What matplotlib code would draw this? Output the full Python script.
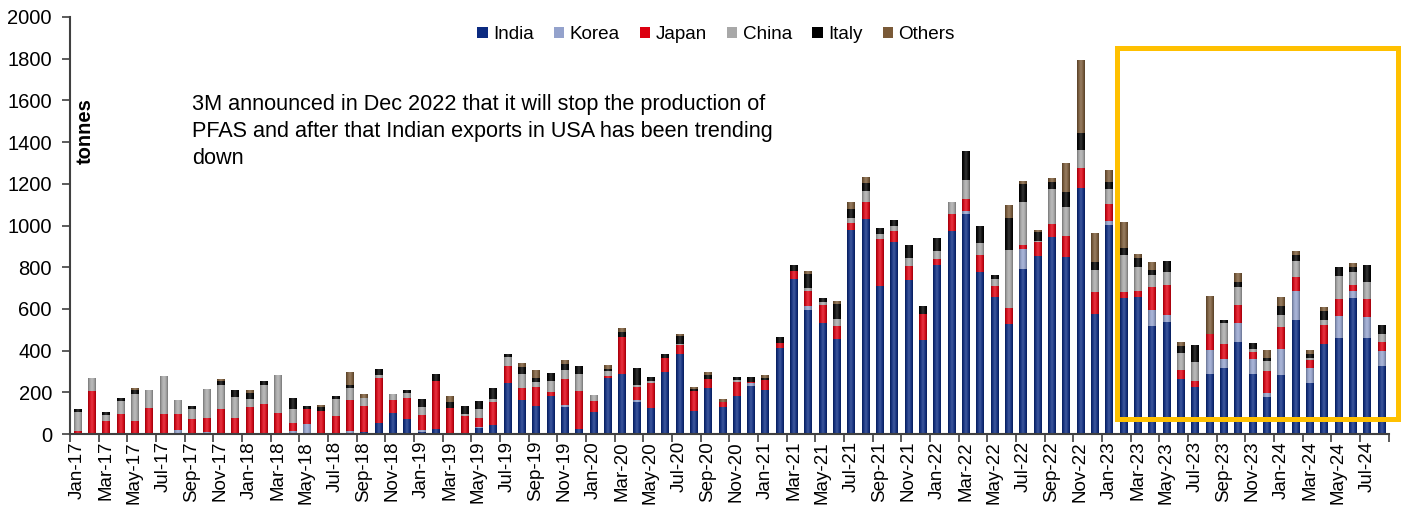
import numpy as np
import pandas as pd
import matplotlib
matplotlib.use("Agg")
import matplotlib.pyplot as plt
from matplotlib.patches import Rectangle
from matplotlib.colors import to_rgb

plt.rcParams['font.family'] = ['Liberation Sans', 'DejaVu Sans']

# Monthly US imports by origin, tonnes (Jan-17 .. Aug-24)
months = pd.date_range("2017-01-01", "2024-08-01", freq="MS").strftime("%b-%y").tolist()

india = [0, 0, 0, 0, 0, 0, 0, 0, 0, 0, 0, 0,
         0, 0, 0, 0, 0, 0, 0, 0, 8, 51, 99, 70,
         8, 22, 0, 0, 27, 42, 243, 162, 133, 181, 128, 22,
         104, 267, 286, 152, 123, 296, 382, 109, 219, 128, 181, 229,
         211, 411, 742, 593, 531, 454, 977, 1030, 708, 919, 739, 451,
         809, 972, 1054, 776, 656, 526, 790, 852, 943, 847, 1178, 574,
         1001, 651, 656, 516, 536, 262, 224, 286, 315, 440, 286, 176,
         281, 545, 243, 430, 459, 651, 459, 325]
korea = [0, 0, 0, 0, 0, 0, 0, 18, 0, 8, 0, 0,
         0, 0, 0, 13, 46, 0, 0, 13, 0, 0, 0, 0,
         10, 0, 0, 0, 5, 0, 0, 0, 0, 0, 10, 0,
         0, 0, 0, 10, 0, 0, 0, 0, 0, 0, 0, 16,
         0, 0, 0, 19, 0, 0, 0, 0, 0, 0, 0, 0,
         0, 0, 14, 0, 0, 0, 96, 0, 0, 0, 0, 0,
         19, 0, 0, 77, 34, 0, 0, 115, 43, 91, 72, 19,
         125, 139, 72, 0, 106, 34, 101, 72]
japan = [13, 205, 61, 96, 61, 123, 96, 78, 70, 67, 118, 75,
         128, 142, 99, 38, 72, 109, 85, 149, 125, 216, 62, 101,
         72, 230, 123, 85, 43, 110, 82, 58, 91, 19, 125, 182,
         53, 10, 178, 62, 120, 67, 43, 96, 43, 24, 67, 5,
         48, 24, 38, 72, 86, 62, 34, 82, 225, 53, 66, 123,
         29, 82, 58, 82, 53, 77, 19, 67, 62, 101, 96, 106,
         82, 29, 29, 110, 144, 43, 29, 77, 72, 86, 34, 106,
         106, 67, 38, 91, 82, 29, 86, 43]
china = [91, 58, 29, 61, 130, 82, 181, 66, 48, 139, 115, 101,
         38, 91, 182, 67, 0, 0, 82, 58, 38, 14, 24, 24,
         38, 0, 0, 10, 43, 14, 43, 67, 24, 53, 43, 86,
         24, 24, 0, 10, 10, 0, 5, 0, 0, 0, 10, 0,
         0, 0, 0, 14, 14, 34, 24, 53, 24, 24, 38, 0,
         38, 53, 91, 58, 34, 278, 206, 5, 168, 139, 86, 106,
         72, 177, 115, 58, 62, 82, 91, 0, 101, 86, 14, 48,
         58, 77, 10, 24, 110, 62, 82, 38]
italy = [14, 0, 14, 10, 21, 0, 0, 0, 10, 0, 21, 29,
         29, 19, 0, 48, 14, 19, 14, 14, 0, 24, 0, 14,
         34, 29, 29, 38, 34, 48, 14, 34, 19, 38, 29, 38,
         0, 10, 24, 77, 19, 19, 38, 10, 19, 0, 14, 22,
         8, 24, 24, 67, 19, 72, 43, 38, 24, 24, 58, 34,
         58, 0, 139, 77, 19, 154, 86, 43, 38, 72, 86, 38,
         34, 34, 43, 24, 48, 34, 77, 0, 14, 24, 24, 14,
         43, 29, 19, 43, 43, 24, 77, 43]
others = [0, 0, 0, 0, 8, 0, 0, 0, 0, 0, 8, 0,
          14, 0, 0, 0, 0, 5, 0, 58, 19, 0, 0, 0,
          0, 0, 24, 0, 0, 0, 0, 19, 38, 0, 19, 0,
          0, 19, 19, 0, 0, 0, 5, 5, 14, 14, 0, 0,
          10, 0, 0, 14, 0, 10, 29, 24, 0, 0, 0, 0,
          0, 0, 0, 0, 0, 62, 10, 5, 19, 139, 350, 139,
          53, 120, 19, 34, 0, 19, 0, 182, 0, 43, 0, 34,
          43, 19, 19, 19, 0, 19, 0, 0]

series = [("India", india, "#0B2A80"),
          ("Korea", korea, "#94A2CC"),
          ("Japan", japan, "#DC0010"),
          ("China", china, "#A8A8A8"),
          ("Italy", italy, "#000000"),
          ("Others", others, "#7A5A38")]

note = ("3M announced in Dec 2022 that it will stop the production of\n"
        "PFAS and after that Indian exports in USA has been trending\n"
        "down")


def shaded(color, n=32):
    """Horizontal gradient strip: darker at the bar edges, lighter in the middle."""
    base = np.array(to_rgb(color))
    t = np.linspace(0, 1, n)
    d = np.abs(2 * t - 1)
    light = 0.22 * (1 - d) ** 1.5
    dark = 0.30 * d ** 2.5
    rgb = base[None, :] * (1 - dark[:, None])
    rgb = rgb + (1 - rgb) * light[:, None]
    return np.clip(rgb, 0, 1)[None, :, :]


fig = plt.figure(figsize=(14.07, 5.18), dpi=100)
ax = fig.add_axes([70 / 1407, 1 - 434 / 518, (1388.5 - 70) / 1407, (434 - 17) / 518])

x = np.arange(len(months))
bottom = np.zeros(len(months))
width = 0.5
for name, vals, col in series:
    v = np.array(vals, dtype=float)
    bars = ax.bar(x, v, width=width, bottom=bottom, color=col, label=name, linewidth=0)
    strip = shaded(col)
    for rect in bars:
        h = rect.get_height()
        if h <= 0:
            continue
        x0, y0 = rect.get_x(), rect.get_y()
        ax.imshow(strip, extent=(x0, x0 + rect.get_width(), y0, y0 + h),
                  aspect='auto', interpolation='bilinear', zorder=2.5)
    bottom += v

ax.set_xlim(-0.5, len(months) - 0.5)
ax.set_ylim(0, 2000)
ax.set_yticks(np.arange(0, 2001, 200))
ax.tick_params(axis='y', labelsize=14.5, length=6, width=1.2, color='#404040',
               direction='out', pad=7)

# category labels every second month, tick marks on category boundaries
ax.set_xticks(np.arange(-0.5, len(months), 2))
ax.set_xticklabels([])
ax.set_xticks(x[::2], minor=True)
ax.set_xticklabels(months[::2], minor=True, rotation=90, fontsize=13.5)
ax.tick_params(axis='x', which='major', length=6, width=1.2, color='#404040', direction='out')
ax.tick_params(axis='x', which='minor', length=0, pad=5)

for s in ['top', 'right']:
    ax.spines[s].set_visible(False)
for s in ['left', 'bottom']:
    ax.spines[s].set_color('#404040')
    ax.spines[s].set_linewidth(1.5)

ax.text(0.0115, 0.727, "tonnes", transform=ax.transAxes, rotation=90,
        fontsize=14.5, fontweight='bold', ha='center', va='center')

ax.text(0.0925, 0.815, note, transform=ax.transAxes, fontsize=15.6,
        ha='left', va='top', linespacing=1.36)

ax.add_patch(Rectangle((72.56, 73), 92.19 - 72.56, 1851 - 73, fill=False,
                       edgecolor='#FFC000', linewidth=3.6, clip_on=False, zorder=5))

ax.legend(loc='upper center', bbox_to_anchor=(0.49, 1.0), ncol=6, frameon=False,
          fontsize=13.6, handlelength=0.55, handleheight=0.55, handletextpad=0.3,
          columnspacing=1.05, borderaxespad=0.1)

fig.savefig("out.png", dpi=100)
